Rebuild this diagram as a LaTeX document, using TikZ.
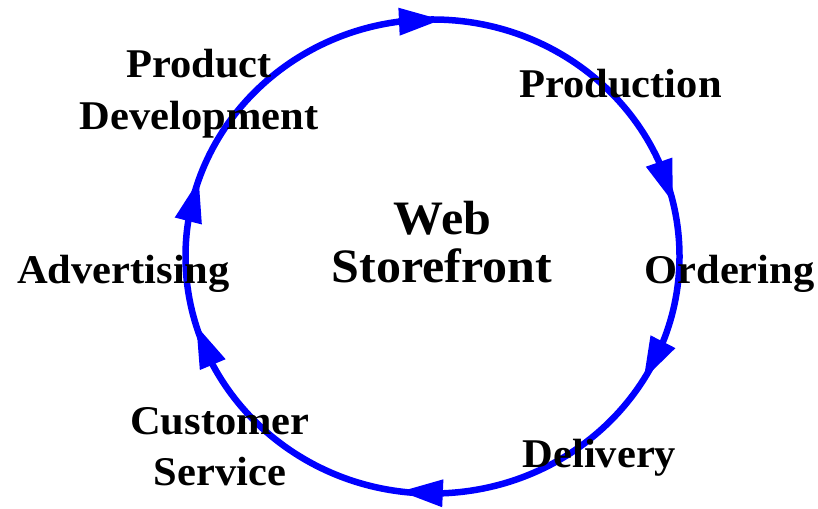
\documentclass[tikz,border=0pt]{standalone}
\usepackage{fontspec}
\setmainfont{Liberation Serif}
\usetikzlibrary{arrows.meta,bending,calc}
\definecolor{ringblue}{RGB}{0,0,255}
\begin{document}
\begin{tikzpicture}[x=1pt,y=1pt,
  ring/.style={draw=ringblue,line width=6.5pt},
  ringarrow/.style={ring,-{Triangle[length=43pt,width=26pt,flex]}},
  lbl/.style={font=\fontsize{42.5}{50}\selectfont\bfseries,inner sep=0pt,anchor=base,yscale=0.96},
  hub/.style={font=\fontsize{50}{58}\selectfont\bfseries,inner sep=0pt,anchor=base,yscale=0.96}]
\useasboundingbox (0,0) rectangle (818,508);
\coordinate (c) at (432.5,251.5);
% the cycle
\draw[ring] (c) ellipse [x radius=247, y radius=237];
% direction arrows, clockwise
\foreach \s/\e in {98/87.8, 23/13.1, -21.6/-31.4, -87.8/-97.6, 206.6/196.8, 170.8/161}{
  \draw[ringarrow] ($(c)+(\s:247 and 237)$) arc[start angle=\s, end angle=\e, x radius=247, y radius=237];
}
% labels
\node[lbl] (prod1) at (199,430) {Product};
\node[lbl] (prod2) at (199,378) {Development};
\node[lbl] (production) at (620.5,410) {Production};
\node[lbl] (ordering) at (729.5,224) {Ordering};
\node[lbl] (advert) at (123.5,224) {Advertising};
\node[lbl] (delivery) at (599.5,40) {Delivery};
\node[lbl] (cust1) at (220,73) {Customer};
\node[lbl] (cust2) at (220,23) {Service};
\node[hub] (web1) at (442.5,273) {Web};
\node[hub] (web2) at (442,225) {Storefront};
\end{tikzpicture}
\end{document}
